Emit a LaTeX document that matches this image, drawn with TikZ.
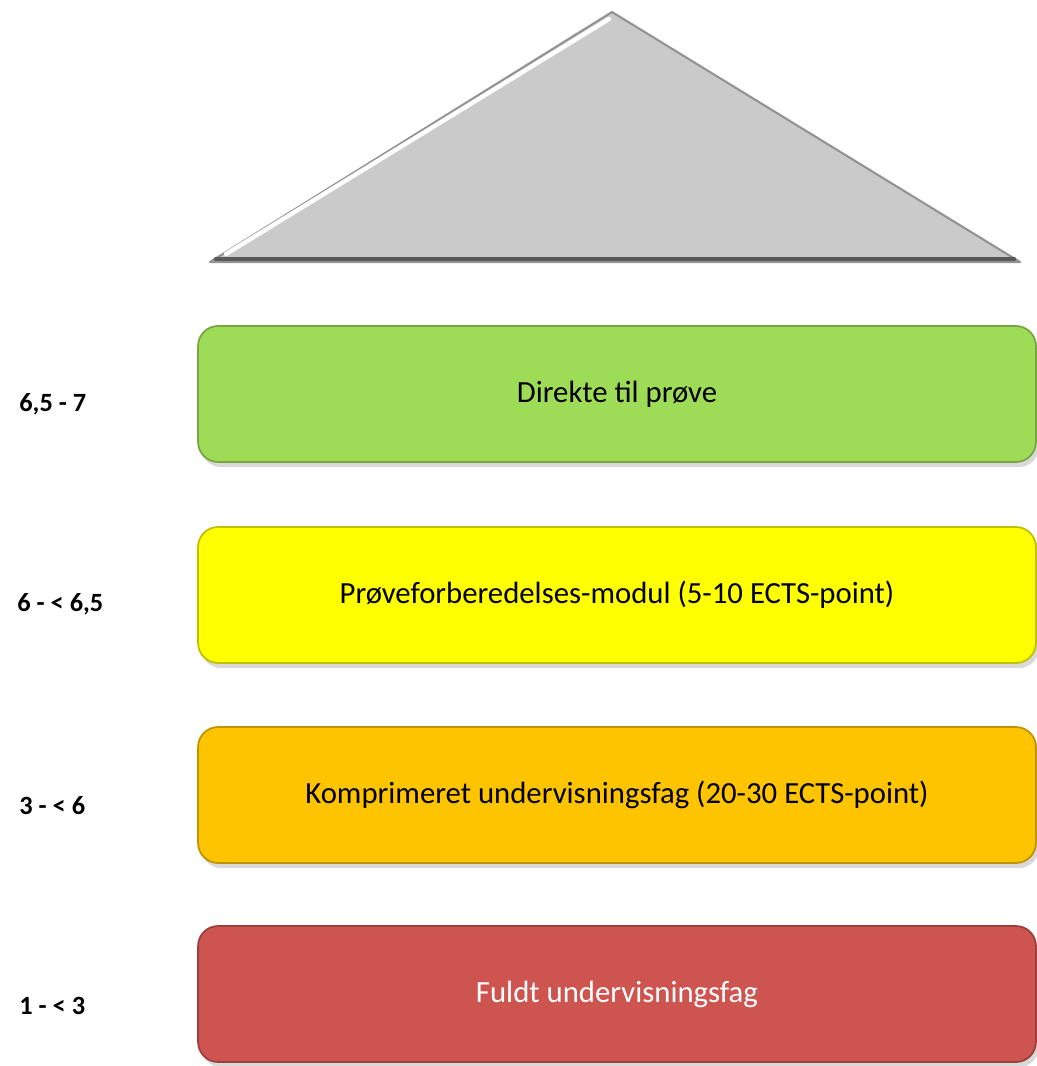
\documentclass[tikz,border=0pt]{standalone}
\usepackage{fontspec}
\setmainfont{Carlito}
\usetikzlibrary{shadows}
\definecolor{trigray}{RGB}{202,202,202}
\definecolor{stagegreen}{RGB}{158,220,88}
\definecolor{stageyellow}{RGB}{255,255,0}
\definecolor{stageorange}{RGB}{255,196,0}
\definecolor{stagered}{RGB}{206,84,80}

\begin{document}
\begin{tikzpicture}[x=0.02cm, y=-0.02cm,
  stage/.style={rounded corners=0.4cm, minimum width=16.76cm, minimum height=2.72cm,
    draw=#1!75!black, line width=1pt, fill=#1, inner sep=0pt,
    font=\fontsize{17.5}{20}\selectfont,
    drop shadow={opacity=0.3, shadow xshift=0.06cm, shadow yshift=-0.1cm}},
  scorelabel/.style={anchor=west, inner sep=0pt, font=\bfseries\fontsize{15}{17}\selectfont}]
\useasboundingbox (0,0) rectangle (1036,1066);
\filldraw[fill=trigray, draw=gray!85, line width=1.2pt, line join=round] (210,262) -- (612,12) -- (1020,262) -- cycle;
\draw[white, line width=2.5pt, line cap=round] (226,254) -- (609,19);
\draw[gray!70!black, line width=2.5pt, line cap=round] (216,259) -- (1014,259);
\node[stage=stagegreen] (direkte) at (617,394) {Direkte til prøve};
\node[stage=stageyellow] (modul) at (617,595) {Prøveforberedelses-modul (5-10 ECTS-point)};
\node[stage=stageorange] (komp) at (617,795) {Komprimeret undervisningsfag (20-30 ECTS-point)};
\node[stage=stagered, text=white] (fuldt) at (617,994) {Fuldt undervisningsfag};
\node[scorelabel] (r1) at (19,404) {6,5 - 7};
\node[scorelabel] (r2) at (17,604) {6 - < 6,5};
\node[scorelabel] (r3) at (19,806) {3 - < 6};
\node[scorelabel] (r4) at (19,1006) {1 - < 3};
\end{tikzpicture}
\end{document}
